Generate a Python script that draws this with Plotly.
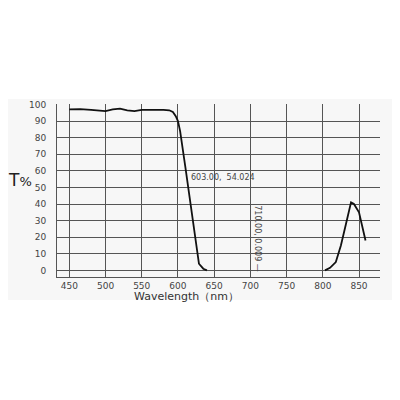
import plotly.graph_objects as go

# Pass band (cut-off edge) data
wl_pass = [450, 465, 480, 490, 500, 510, 520, 530, 540, 550, 560, 570, 580, 588, 593, 597, 600, 603, 610, 620, 629, 635, 640]
t_pass = [97, 97.2, 96.8, 96.5, 96, 97, 97.5, 96.5, 96, 96.8, 97, 96.8, 96.8, 96.5, 95.5, 93, 90, 84, 63, 33, 4, 1, 0]

# IR leak peak data
wl_peak = [803, 810, 818, 825, 832, 839, 843, 850, 859]
t_peak = [0, 1.5, 5, 15, 28, 41, 40, 35, 18]

x_ticks = [450, 500, 550, 600, 650, 700, 750, 800, 850]
y_ticks = [0, 10, 20, 30, 40, 50, 60, 70, 80, 90, 100]

font_col = "#444444"
grid_col = "#555555"

fig = go.Figure()
fig.add_trace(go.Scatter(x=wl_pass, y=t_pass, mode="lines",
                         line=dict(color="#111111", width=1.8), showlegend=False))
fig.add_trace(go.Scatter(x=wl_peak, y=t_peak, mode="lines",
                         line=dict(color="#111111", width=1.8), showlegend=False))

fig.update_layout(
    width=384, height=384,
    margin=dict(l=49, r=12, t=96, b=115),
    paper_bgcolor="white", plot_bgcolor="white",
    font=dict(family="DejaVu Sans", size=9, color=font_col),
    xaxis=dict(range=[433, 879], tickvals=x_ticks, showgrid=True, gridcolor=grid_col,
               gridwidth=1, zeroline=False, showline=True, linecolor=grid_col, linewidth=1,
               ticks="", automargin=False,
               tickfont=dict(size=9, color=font_col)),
    yaxis=dict(range=[-4, 100.3], tickvals=y_ticks, showgrid=True, gridcolor=grid_col,
               gridwidth=1, zeroline=False, showline=True, linecolor=grid_col, linewidth=1,
               ticks="outside", ticklen=8, tickcolor="rgba(0,0,0,0)", automargin=False,
               tickfont=dict(size=9, color=font_col)),
    shapes=[dict(type="rect", xref="paper", yref="paper", x0=-0.18, x1=1.07,
                 y0=-0.133, y1=1.029,
                 fillcolor="#f7f7f7", line=dict(width=0), layer="below")],
    annotations=[
        dict(x=615, y=56, xref="x", yref="y", text="603.00,  54.024", showarrow=False,
             xanchor="left", yanchor="middle", font=dict(size=8, color=font_col)),
        dict(x=710, y=19, xref="x", yref="y", text="710.00, 0.009 —", showarrow=False,
             textangle=90, xanchor="center", yanchor="middle", font=dict(size=8, color=font_col)),
        dict(x=-0.115, y=0.56, xref="paper", yref="paper",
             text="T<span style='font-size:13px'>%</span>", showarrow=False,
             xanchor="center", yanchor="middle", font=dict(size=17, color="#222222")),
        dict(x=0.40, y=-0.11, xref="paper", yref="paper", text="Wavelength（nm）",
             showarrow=False, xanchor="center", yanchor="middle",
             font=dict(size=11, color="#333333")),
    ],
)

fig.write_html("out.html")
